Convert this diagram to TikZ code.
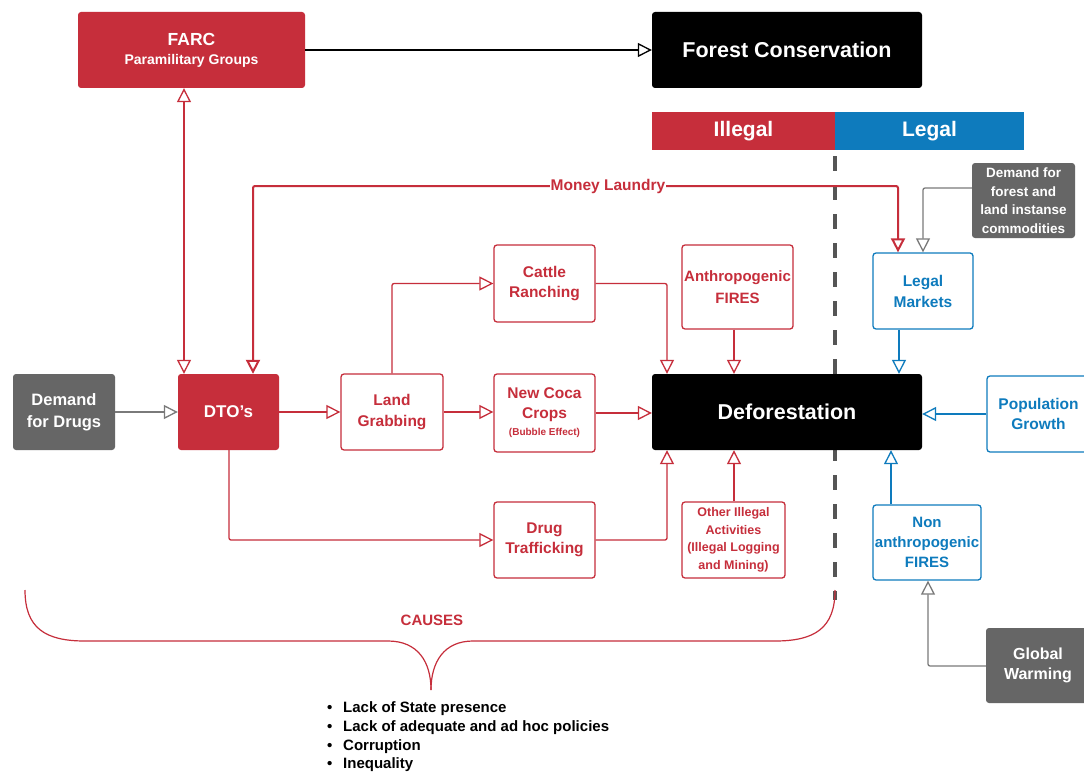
\documentclass[tikz,border=0pt]{standalone}
\usepackage{fontspec}
\setmainfont{Liberation Sans}
\usetikzlibrary{arrows.meta,calc}
\definecolor{cred}{HTML}{C62E3B}
\definecolor{cblue}{HTML}{0E7BBD}
\definecolor{cgray}{HTML}{666666}
\definecolor{cline}{HTML}{7A7A7A}
\definecolor{cdash}{HTML}{555555}
\newcommand\myfs[2]{\fontsize{#1}{#2}\selectfont}
\tikzset{
  tri/.tip={Triangle[open,length=14pt,width=14pt]},
  base/.style={rounded corners=3pt, align=center, inner sep=0pt, font=\bfseries},
  fsz/.style 2 args={font=\bfseries\myfs{#1}{#2}},
  wh/.style 2 args={minimum width=#1, minimum height=#2},
  fillred/.style={base, fill=cred, text=white},
  fillblk/.style={base, fill=black, text=white},
  fillgry/.style={base, fill=cgray, text=white},
  outred/.style={base, draw=cred, line width=1.3pt, fill=white, text=cred},
  outblue/.style={base, draw=cblue, line width=1.3pt, fill=white, text=cblue},
  bar/.style={align=center, inner sep=0pt, fsz={21}{24}, text=white},
  conred/.style={draw=cred, line width=1.3pt, rounded corners=2pt, -tri},
  conblue/.style={draw=cblue, line width=1.3pt, rounded corners=2pt, -tri},
  congray/.style={draw=cline, line width=1.3pt, rounded corners=2pt, -tri},
  conblack/.style={draw=black, line width=1.3pt, -tri},
  mlstyle/.style={draw=cred, line width=2pt, rounded corners=2pt, tri-tri},
  redlabel/.style={text=cred, fsz={15.5}{18}, inner sep=1pt},
  listtxt/.style={anchor=base west, inner sep=0pt, fsz={15}{18}, text=black},
}
\begin{document}
\begin{tikzpicture}[x=1pt,y=-1pt]
\useasboundingbox (0,0) rectangle (1084,773);
\fill[white] (0,0) rectangle (1084,773);

% dashed divider
\coordinate (dashtop) at (835,156);
\coordinate (dashbot) at (835,600);
\draw[cdash, line width=4pt, dash pattern=on 15pt off 14pt] (dashtop) -- (dashbot);

% top
\node[fillred, wh={227}{76}, fsz={14}{16}] (farc) at (191.5,50) {\myfs{17.5}{19}FARC\\[3pt]Paramilitary Groups};
\node[fillblk, wh={270}{76}, fsz={21.5}{25}] (fc) at (787,50) {Forest Conservation};
\node[bar, fill=cred, minimum width=183, minimum height=38] (illegal) at (743.5,131) {Illegal};
\node[bar, fill=cblue, minimum width=189, minimum height=38] (legal) at (929.5,131) {Legal};

% right side
\node[fillgry, wh={103}{75}, fsz={13.5}{18.5}] (dff) at (1023.5,200.5) {Demand for\\forest and\\land instanse\\commodities};
\node[outblue, wh={100}{76}, fsz={15.5}{21}] (lm) at (923,291) {Legal\\Markets};
\node[fillblk, wh={270}{76}, fsz={21.5}{25}] (defo) at (787,412) {Deforestation};
\node[outblue, wh={103}{76}, fsz={15.5}{20}] (pop) at (1038.5,414) {Population\\Growth};
\node[outblue, wh={108}{75}, fsz={15}{20}] (nonf) at (927,542.5) {Non\\anthropogenic\\FIRES};
\node[fillgry, wh={104}{75}, fsz={16}{20}] (gw) at (1038,665.5) {Global\\Warming};

% left side
\node[fillgry, wh={102}{76}, fsz={16.5}{22}] (dfd) at (64,412) {Demand\\for Drugs};
\node[fillred, wh={101}{76}, fsz={17}{19}] (dto) at (228.5,412) {DTO's};
\node[outred, wh={102}{76}, fsz={15.5}{21}] (lg) at (392,412) {Land\\Grabbing};
\node[outred, wh={101}{77}, fsz={15.5}{20}] (cr) at (544.5,283.5) {Cattle\\Ranching};
\node[outred, wh={101}{78}, fsz={15.5}{20}] (ncc) at (544.5,413) {New Coca\\Crops\\[-3pt]\myfs{10}{12}(Bubble Effect)};
\node[outred, wh={111}{84}, fsz={15}{22}] (af) at (737.5,287) {Anthropogenic\\FIRES};
\node[outred, wh={101}{76}, fsz={15.5}{20}] (dt) at (544.5,540) {Drug\\Trafficking};
\node[outred, wh={103}{76}, fsz={12.5}{17.5}] (oia) at (733.5,540) {Other Illegal\\Activities\\(Illegal Logging\\and Mining)};

% helper coordinates
\coordinate (fdx) at (184,0);
\coordinate (mlL) at (253,186);
\coordinate (mlR) at (898,186);
\coordinate (gc) at (923,188);
\coordinate (lmx) at (899,0);
\coordinate (nfx) at (891,0);
\coordinate (gwc) at (928,666);
\coordinate (jx) at (667,0);
\coordinate (ax) at (734,0);
\coordinate (dx) at (229,0);

% connectors
\draw[conblack] (farc.east) -- (fc.west);
\draw[conred, tri-tri] (farc.south -| fdx) -- (dto.north -| fdx);
\draw[mlstyle] (dto.north -| mlL) -- (mlL) -- (mlR) -- (lm.north -| mlR);
\node[redlabel, fill=white] (ml) at (608,186) {Money Laundry};
\draw[congray] (dff.west |- gc) -- (gc) -- (lm.north -| gc);
\draw[conblue] (lm.south -| lmx) -- (defo.north -| lmx);
\draw[conblue] (pop.west) -- (pop.west -| defo.east);
\draw[conblue] (nonf.north -| nfx) -- (defo.south -| nfx);
\draw[congray] (gw.west |- gwc) -- (gwc) -- (nonf.south -| gwc);
\draw[congray] (dfd.east) -- (dto.west);
\draw[conred] (dto.east) -- (lg.west);
\draw[conred] (lg.north) |- (cr.west);
\draw[conred] (lg.east) -- (lg.east -| ncc.west);
\draw[conred] (ncc.east) -- (ncc.east -| defo.west);
\draw[conred] (cr.east) -| (defo.north -| jx);
\draw[conred] (af.south -| ax) -- (defo.north -| ax);
\draw[conred] (dto.south -| dx) |- (dt.west);
\draw[conred] (dt.east) -| (defo.south -| jx);
\draw[conred] (oia.north -| ax) -- (defo.south -| ax);

% brace
\draw[cred, line width=1.2pt] (25,590) .. controls (25,628) and (45,641) .. (85,641) -- (388,641) .. controls (418,641) and (431,662) .. (431,690);
\draw[cred, line width=1.2pt] (835,590) .. controls (835,628) and (815,641) .. (775,641) -- (473,641) .. controls (444,641) and (431,662) .. (431,690);
\node[redlabel, fsz={15}{18}] (causes) at (432,620) {CAUSES};

% list
\node[listtxt] (l1) at (327,712.5) {\makebox[16pt][l]{•}Lack of State presence};
\node[listtxt] (l2) at (327,731) {\makebox[16pt][l]{•}Lack of adequate and ad hoc policies};
\node[listtxt] (l3) at (327,750) {\makebox[16pt][l]{•}Corruption};
\node[listtxt] (l4) at (327,768.5) {\makebox[16pt][l]{•}Inequality};
\end{tikzpicture}
\end{document}
